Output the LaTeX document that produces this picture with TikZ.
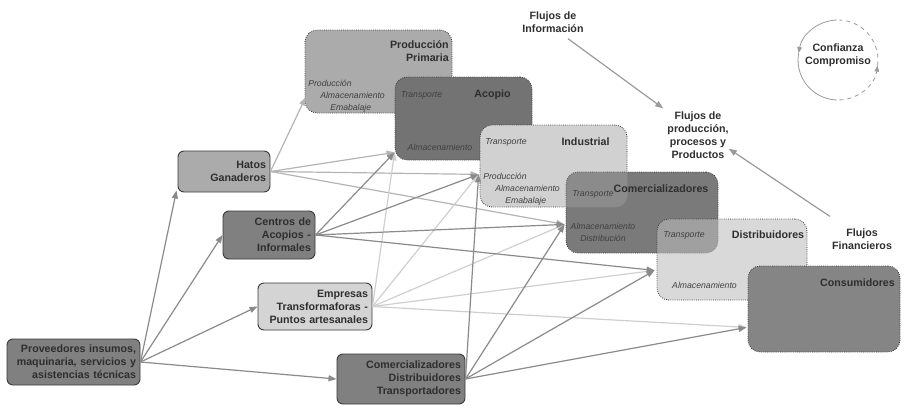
\documentclass[tikz,border=0pt]{standalone}
\usepackage{fontspec}
\setmainfont{Liberation Sans}
\usetikzlibrary{arrows.meta}
\definecolor{edge}{HTML}{3A3A3A}
\definecolor{txt}{HTML}{2E2E2E}
\definecolor{subtxt}{HTML}{404040}
\definecolor{linemid}{HTML}{8A8A8A}
\definecolor{linehat}{HTML}{B4B4B4}
\definecolor{lineemp}{HTML}{CFCFCF}
\definecolor{flowline}{HTML}{9A9A9A}

\begin{document}
\begin{tikzpicture}[x=0.75pt,y=-0.75pt,
  actor/.style={draw=edge, line width=0.7pt, rounded corners=4.5pt, align=right,
    font=\bfseries\fontsize{8}{9.75}\selectfont, text=txt, inner xsep=3pt, inner ysep=2pt},
  stage/.style={draw=edge, densely dotted, line width=0.6pt, rounded corners=9pt, inner sep=0pt},
  ttl/.style={font=\bfseries\fontsize{8}{9.75}\selectfont, text=txt, inner sep=0pt},
  sub/.style={font=\itshape\fontsize{6.5}{9}\selectfont, text=subtxt, inner sep=0pt},
  conn/.style={line width=0.9pt, -{Triangle[length=6pt,width=4.5pt]}},
  cyc/.style={draw=flowline, line width=0.6pt},
]
\useasboundingbox (0,0) rectangle (904,405);

% stages
\node[stage, fill=black!33, minimum width=110.25pt, minimum height=62.25pt] (prim) at (378.5,71.5) {};
\node[stage, fill=black!55, minimum width=102.75pt, minimum height=62.25pt] (acop) at (463.5,118.5) {};
\node[stage, fill=black!18, minimum width=110.25pt, minimum height=61.5pt] (indu) at (553.5,166) {};
\node[stage, fill=black!52, minimum width=114pt, minimum height=60.75pt] (come) at (642,212.5) {};
\begin{scope}
  \clip[rounded corners=9pt] (come.south west) rectangle (come.north east);
  \fill[white, fill opacity=0.13, rounded corners=9pt] (indu.south west) rectangle (indu.north east);
\end{scope}
\node[stage, fill=black!26, fill opacity=0.58, minimum width=112.5pt, minimum height=60.75pt] (dist) at (732,259.5) {};
\node[stage, fill=black!48, minimum width=114pt, minimum height=64.5pt] (cons) at (824,309) {};

\node[ttl, align=right, anchor=east] (primT) at (449,51.5) {Producción\\Primaria};
\node[sub, align=left, anchor=west] (primS) at (308,96) {Producción\\\hspace*{9pt}Almacenamiento\\\hspace*{16.5pt}Emabalaje};
\node[ttl] (acopT) at (492.5,95) {Acopio};
\node[sub] (acopS1) at (421.5,95) {Transporte};
\node[sub] (acopS2) at (440,147) {Almacenamiento};
\node[ttl] (induT) at (585.5,142) {Industrial};
\node[sub] (induS1) at (506,142) {Transporte};
\node[sub, align=left, anchor=west] (induS2) at (483,189) {Producción\\\hspace*{9pt}Almacenamiento\\\hspace*{16.5pt}Emabalaje};
\node[ttl] (comeT) at (661,189) {Comercializadores};
\node[sub] (comeS1) at (593,194) {Transporte};
\node[sub, align=center] (comeS2) at (603,232.5) {Almacenamiento\\Distribución};
\node[ttl] (distT) at (768,235) {Distribuidores};
\node[sub] (distS1) at (684,235) {Transporte};
\node[sub] (distS2) at (704.5,285) {Almacenamiento};
\node[ttl] (consT) at (857.5,283) {Consumidores};

% actors
\node[actor, fill=black!50, text width=93.75pt, minimum height=34.5pt] (prov) at (73.5,362) {Proveedores insumos,\\maquinaria, servicios y\\asistencias técnicas};
\node[actor, fill=black!33, text width=63pt, minimum height=30.75pt] (hatos) at (224,171.5) {Hatos\\Ganaderos};
\node[actor, fill=black!50, text width=63pt, minimum height=36pt] (centros) at (269,235) {Centros de\\Acopios -\\Informales};
\node[actor, fill=black!17, text width=79.5pt, minimum height=35.25pt] (empresas) at (315,306.5) {Empresas\\Transformaforas -\\Puntos artesanales};
\node[actor, fill=black!50, text width=90pt, minimum height=37.5pt] (comdis) at (401,379) {Comercializadores\\Distribuidores\\Transportadores};

% flows
\node[ttl, align=center] (info) at (553,22) {Flujos de\\Información};
\node[ttl, align=center] (prodflow) at (698,135) {Flujos de\\producción,\\procesos y\\Productos};
\node[ttl, align=center] (fin) at (862,239) {Flujos\\Financieros};
\node[ttl, align=center] (conf) at (838,55) {Confianza\\Compromiso};

\coordinate (primIn) at ([shift={(1,-16)}]prim.south west);
\coordinate (acopIn) at ([shift={(0,-8)}]acop.south west);
\coordinate (induIn) at ([shift={(-1,-33)}]indu.south west);
\coordinate (comeIn) at ([shift={(-1,-29)}]come.south west);
\coordinate (distIn) at ([shift={(-2,-30)}]dist.south west);
\coordinate (consIn) at ([shift={(-1,-25)}]cons.south west);

\foreach \t in {primIn,acopIn,induIn,comeIn}
  \draw[conn, draw=linehat] (hatos.east) -- (\t);
\foreach \t in {acopIn,induIn,comeIn,distIn,consIn}
  \draw[conn, draw=lineemp] (empresas.east) -- (\t);
\foreach \t in {acopIn,induIn,comeIn,distIn}
  \draw[conn, draw=linemid] (centros.east) -- (\t);
\foreach \t in {induIn,comeIn,distIn,consIn}
  \draw[conn, draw=linemid] (comdis.east) -- (\t);

\draw[conn, draw=linemid] (prov.east) -- ([shift={(-1,-2)}]hatos.south west);
\foreach \t in {centros,empresas,comdis}
  \draw[conn, draw=linemid] (prov.east) -- (\t.west);

\draw[conn, draw=flowline] ([shift={(15,6)}]info.south) -- ([shift={(-4,-3)}]prodflow.north west);
\draw[conn, draw=flowline] ([shift={(-2,-12)}]fin.north west) -- ([shift={(0,-10)}]prodflow.south east);

% cycle
\coordinate (ccen) at ([yshift=-3.75pt]conf.center);
\draw[cyc, -{Triangle[length=4.5pt,width=3.5pt]}] ([shift={(92:30pt)}]ccen) arc[start angle=92, end angle=170, radius=30pt];
\draw[cyc] ([shift={(170:30pt)}]ccen) arc[start angle=170, end angle=268, radius=30pt];
\draw[cyc, dashed, -{Triangle[length=4.5pt,width=3.5pt]}] ([shift={(272:30pt)}]ccen) arc[start angle=272, end angle=352, radius=30pt];
\draw[cyc, dashed] ([shift={(352:30pt)}]ccen) arc[start angle=352, end angle=448, radius=30pt];
\end{tikzpicture}
\end{document}
